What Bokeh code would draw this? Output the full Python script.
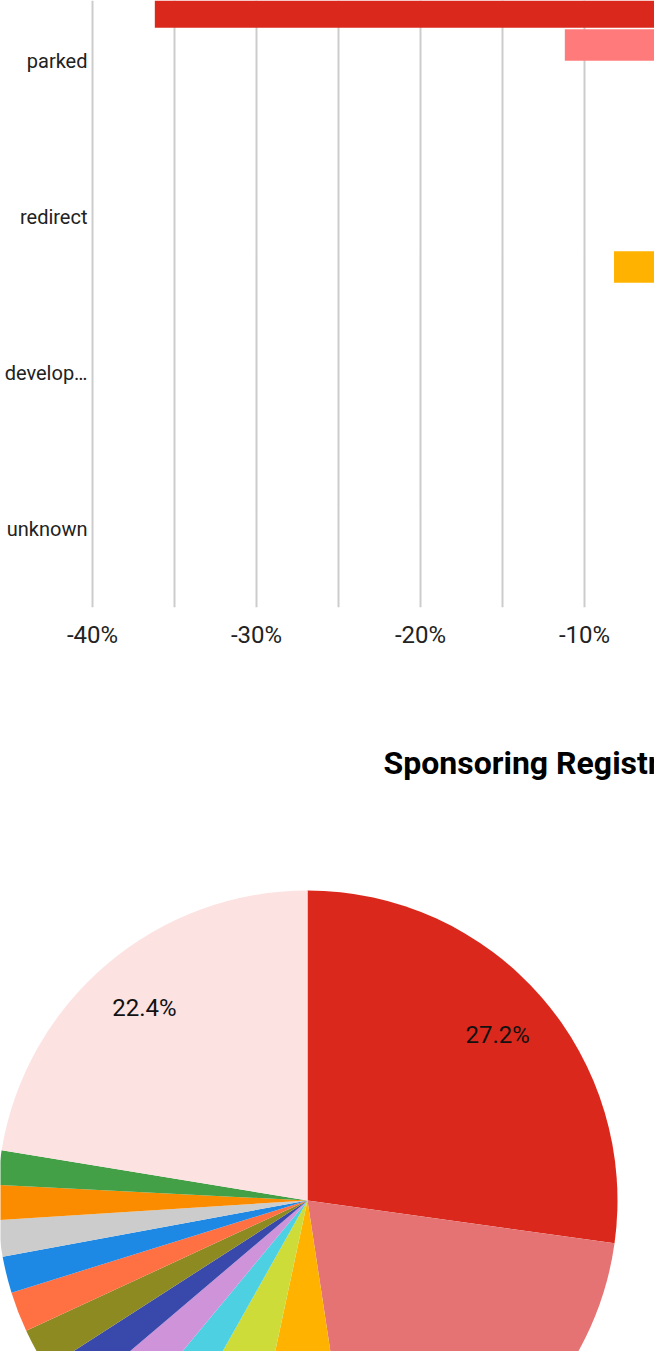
import math
from bokeh.plotting import figure
from bokeh.models import (Range1d, FixedTicker, PrintfTickFormatter, ColumnDataSource)
from bokeh.core.properties import value
from bokeh.embed import file_html
from bokeh.resources import INLINE

# ---------------- data: bar chart (change in share, %) ----------------
categories = ["parked", "redirect", "develop\u2026", "unknown"]
series_colors = ["#DA291C", "#FF7B7B", "#F4A6A6", "#FFB300"]
# values; None = bar not visible in the crop
s1_values = [-36.2, None, None, None]
s2_values = [-11.2, None, None, None]
s3_values = [None, None, None, None]
s4_values = [None, -8.2, None, None]
x_ticks = [-40, -30, -20, -10, 0]
x_minor = [-35, -25, -15, -5]

# ---------------- data: pie chart ----------------
pie_title = "Sponsoring Registrar"
pie_pcts = [27.2, 20.4, 5.75, 4.8, 2.86, 2.78, 2.1, 2.2, 2.1, 1.9, 1.9, 1.8, 1.8, 22.4]
pie_colors = ["#DA291C", "#E57373", "#FFB300", "#CDDC39", "#4DD0E1", "#CE93D8",
              "#3949AB", "#8E8A22", "#FF7043", "#1E88E5", "#CCCCCC", "#FB8C00",
              "#43A047", "#FDE2E2"]

FONT = "Roboto"
TXT = "#222222"

# ---------------- bar chart ----------------
PX_PER_PCT = 16.4
LEFT = 90
x0 = -40 - 2 / PX_PER_PCT
bar = figure(width=654, height=680, output_backend="svg", toolbar_location=None,
             x_range=Range1d(x0, x0 + (654 - LEFT) / PX_PER_PCT),
             y_range=Range1d(3.5, -0.391),
             min_border_left=LEFT, min_border_right=0, min_border_top=0,
             min_border_bottom=73)
bar.outline_line_color = None

pitch = 0.2115
height = 0.202
offsets = [-1.5, -0.5, 0.5, 1.5]
for vals, col, off in zip([s1_values, s2_values, s3_values, s4_values], series_colors, offsets):
    ys, rights, lefts = [], [], []
    for i, v in enumerate(vals):
        if v is None:
            continue
        ys.append(i + off * pitch)
        lefts.append(v)
        rights.append(0)
    if ys:
        bar.hbar(y=ys, left=lefts, right=rights, height=height, color=col, line_color=None)

bar.xaxis.ticker = FixedTicker(ticks=x_ticks, minor_ticks=x_minor)
bar.xaxis.formatter = PrintfTickFormatter(format="%d%%")
bar.xgrid.grid_line_color = "#CCCCCC"
bar.xgrid.grid_line_width = 2
bar.xgrid.minor_grid_line_color = "#CCCCCC"
bar.xgrid.minor_grid_line_width = 2
bar.ygrid.grid_line_color = None

bar.yaxis.ticker = FixedTicker(ticks=list(range(len(categories))))
bar.yaxis.major_label_overrides = {i: c for i, c in enumerate(categories)}

for ax in (bar.xaxis, bar.yaxis):
    ax.axis_line_color = None
    ax.major_tick_line_color = None
    ax.minor_tick_line_color = None
    ax.major_tick_out = 0
    ax.minor_tick_out = 0
    ax.major_label_text_font = FONT
    ax.major_label_text_color = TXT
bar.xaxis.major_label_text_font_size = "24px"
bar.xaxis.major_label_standoff = 13
bar.yaxis.major_label_text_font_size = "20px"
bar.yaxis.major_label_standoff = 3

# ---------------- pie chart ----------------
CX, CY = 307, 1200
R = 310
pie = figure(width=654, height=671, output_backend="svg", toolbar_location=None,
             x_range=Range1d(0 - CX, 654 - CX), y_range=Range1d(CY - 1351, CY - 680),
             min_border=0)
pie.axis.visible = False
pie.grid.visible = False
pie.outline_line_color = None

total = sum(pie_pcts)
starts, ends, lx, ly, labels = [], [], [], [], []
cum = 0.0
for pct in pie_pcts:
    a0 = cum / total
    cum += pct
    a1 = cum / total
    starts.append(math.pi / 2 - 2 * math.pi * a1)
    ends.append(math.pi / 2 - 2 * math.pi * a0)
    mid = 2 * math.pi * (a0 + a1) / 2
    x = 0.813 * R * math.sin(mid)
    y = 0.813 * R * math.cos(mid)
    if y > CY - 1351 + 20 and pct >= 5:
        lx.append(x)
        ly.append(y)
        labels.append("%.1f%%" % pct)

src = ColumnDataSource(dict(start=starts, end=ends, color=pie_colors))
pie.wedge(x=0, y=0, radius=R, start_angle="start", end_angle="end",
          direction="anticlock", fill_color="color", line_color=None, source=src)
pie.text(x=lx, y=ly, text=labels, text_font=value(FONT), text_font_size="24px",
         text_color="#111111", text_align="center", text_baseline="middle")
pie.text(x=[383 - CX], y=[CY - 762], text=[pie_title], text_font=value(FONT),
         text_font_size="32px", text_font_style="bold", text_color="#000000",
         text_align="left", text_baseline="middle")

open("out.html", "w").write(file_html([bar, pie], INLINE))
